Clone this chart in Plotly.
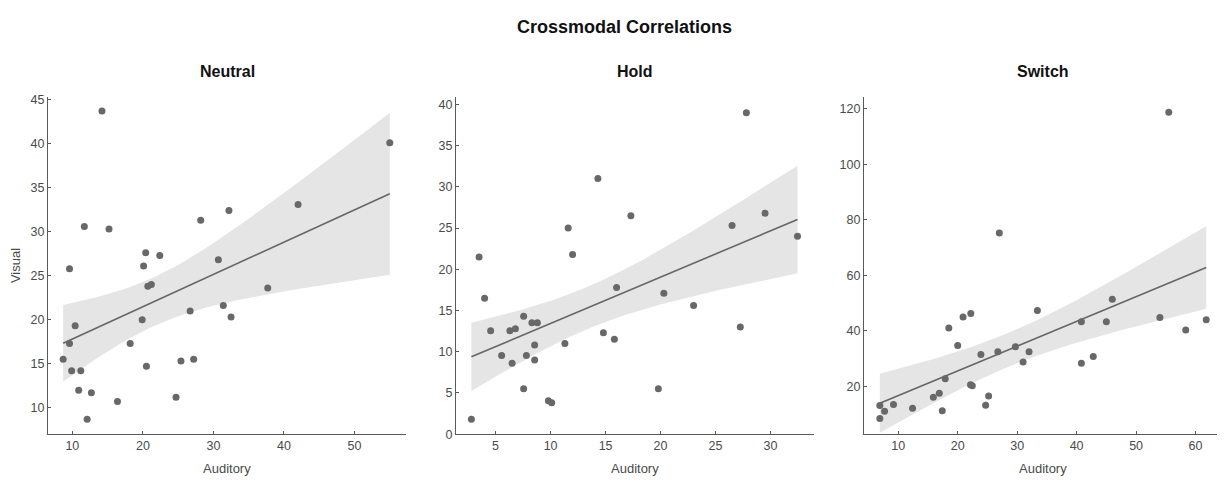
import numpy as np
import plotly.graph_objects as go

# --- data (Auditory on x, Visual on y) ---
neutral_aud = [14.2, 55.0, 11.7, 15.2, 9.6, 28.2, 32.2, 42.0, 20.4, 22.4, 20.1,
               30.7, 20.7, 21.2, 37.7, 19.9, 10.4, 9.6, 8.7, 9.9, 11.2, 10.9,
               12.7, 12.1, 16.4, 18.2, 20.5, 24.7, 25.4, 27.2, 26.7, 31.4, 32.5]
neutral_vis = [43.7, 40.1, 30.6, 30.3, 25.8, 31.3, 32.4, 33.1, 27.6, 27.3, 26.1,
               26.8, 23.8, 24.0, 23.6, 20.0, 19.3, 17.3, 15.5, 14.2, 14.2, 12.0,
               11.7, 8.7, 10.7, 17.3, 14.7, 11.2, 15.3, 15.5, 21.0, 21.6, 20.3]

hold_aud = [27.8, 14.3, 17.3, 11.6, 12.0, 3.5, 26.5, 29.5, 32.45, 16.0, 20.3,
            4.0, 4.55, 7.55, 6.3, 6.8, 8.3, 8.8, 5.55, 6.5, 7.8, 8.55, 8.55,
            7.55, 9.8, 10.1, 2.8, 11.3, 14.8, 15.8, 19.8, 23.0, 27.25]
hold_vis = [39.0, 31.0, 26.5, 25.0, 21.8, 21.5, 25.3, 26.8, 24.0, 17.8, 17.1,
            16.5, 12.55, 14.3, 12.55, 12.8, 13.5, 13.5, 9.55, 8.6, 9.55, 10.8, 9.0,
            5.5, 4.05, 3.8, 1.8, 11.0, 12.3, 11.5, 5.5, 15.6, 13.0]

switch_aud = [55.5, 27.0, 33.4, 46.0, 20.9, 22.2, 18.5, 20.0, 23.9, 26.75, 29.7,
              31.0, 32.0, 40.8, 40.8, 42.8, 45.0, 54.0, 58.35, 61.8, 6.9, 6.9,
              7.7, 9.2, 12.4, 15.9, 16.9, 17.4, 17.9, 22.15, 22.45, 24.7, 25.2]
switch_vis = [118.7, 75.2, 47.3, 51.4, 45.0, 46.2, 41.0, 34.7, 31.5, 32.5, 34.3,
              28.8, 32.5, 43.3, 28.3, 30.8, 43.3, 44.8, 40.3, 44.0, 13.1, 8.4,
              11.0, 13.5, 12.1, 16.1, 17.5, 11.2, 22.7, 20.6, 20.2, 13.2, 16.5]

panels = ["Neutral", "Hold", "Switch"]
x_ranges = [[6.55, 57.3], [1.4, 33.95], [4.24, 64.45]]
y_ranges = [[7.0, 45.3], [0, 40.9], [2.8, 124.2]]
x_ticks = [[10, 20, 30, 40, 50], [5, 10, 15, 20, 25, 30], [10, 20, 30, 40, 50, 60]]
y_ticks = [[10, 15, 20, 25, 30, 35, 40, 45], [0, 5, 10, 15, 20, 25, 30, 35, 40],
           [20, 40, 60, 80, 100, 120]]

T_CRIT = 2.04  # 95% two-sided, ~31 dof

W, H = 1225, 482
x_px = [(40, 398), (448, 806), (856, 1214)]
y_px = (87, 432)

DOT = "#686868"
AX = "#5a5a5a"
TXT = "#4a4a4a"
BAND = "#e5e5e5"
FONT = "Liberation Sans, Arial, sans-serif"


def fit_band(x, y, n=80):
    x = np.asarray(x, float)
    y = np.asarray(y, float)
    b1, b0 = np.polyfit(x, y, 1)
    xs = np.linspace(x.min(), x.max(), n)
    yhat = b0 + b1 * xs
    resid = y - (b0 + b1 * x)
    s = np.sqrt((resid ** 2).sum() / (len(x) - 2))
    sxx = ((x - x.mean()) ** 2).sum()
    se = s * np.sqrt(1 / len(x) + (xs - x.mean()) ** 2 / sxx)
    return xs, yhat, yhat - T_CRIT * se, yhat + T_CRIT * se


data = [(neutral_aud, neutral_vis), (hold_aud, hold_vis), (switch_aud, switch_vis)]

fig = go.Figure()
for i, (xa, ya) in enumerate(data):
    sfx = "" if i == 0 else str(i + 1)
    xs, yhat, lo, hi = fit_band(xa, ya)
    fig.add_trace(go.Scatter(
        x=np.concatenate([xs, xs[::-1]]), y=np.concatenate([hi, lo[::-1]]),
        fill="toself", fillcolor=BAND, line=dict(width=0), mode="lines",
        hoverinfo="skip", showlegend=False, xaxis="x" + sfx, yaxis="y" + sfx,
    ))
    fig.add_trace(go.Scatter(
        x=xs, y=yhat, mode="lines", line=dict(color="#666666", width=1.6),
        showlegend=False, xaxis="x" + sfx, yaxis="y" + sfx,
    ))
    fig.add_trace(go.Scatter(
        x=xa, y=ya, mode="markers", marker=dict(color=DOT, size=7),
        showlegend=False, xaxis="x" + sfx, yaxis="y" + sfx,
    ))

layout = dict(
    width=W, height=H, margin=dict(l=0, r=0, t=0, b=0),
    paper_bgcolor="white", plot_bgcolor="white",
    font=dict(family=FONT, size=12, color=TXT),
    showlegend=False,
)
ydom = [1 - y_px[1] / H, 1 - y_px[0] / H]
ax_common = dict(showline=True, linecolor=AX, linewidth=1.2, ticks="inside", ticklen=3,
                 tickcolor=AX, showgrid=False, zeroline=False,
                 tickfont=dict(size=12.5, color=TXT))


def label(text, x, y, size, color, bold=False, angle=0):
    return dict(text="<b>%s</b>" % text if bold else text, x=x, y=y,
                xref="paper", yref="paper", xanchor="center", yanchor="middle",
                showarrow=False, textangle=angle,
                font=dict(size=size, color=color, family=FONT))


annotations = [label("Crossmodal Correlations", 616 / W, 1 - 15 / H, 18, "#111111", bold=True),
               label("Visual", 7 / W, 1 - 260 / H, 13, TXT, angle=-90)]
for i in range(3):
    sfx = "" if i == 0 else str(i + 1)
    xdom = [x_px[i][0] / W, x_px[i][1] / W]
    layout["xaxis" + sfx] = dict(ax_common, domain=xdom, range=x_ranges[i],
                                 tickvals=x_ticks[i], anchor="y" + sfx)
    layout["yaxis" + sfx] = dict(ax_common, domain=ydom, range=y_ranges[i],
                                 tickvals=y_ticks[i], anchor="x" + sfx)
    xc = sum(xdom) / 2
    annotations.append(label(panels[i], xc, 1 - 61 / H, 16, "#111111", bold=True))
    annotations.append(label("Auditory", xc, 1 - 467 / H, 13, TXT))
layout["annotations"] = annotations
fig.update_layout(**layout)

fig.write_html("out.html")
